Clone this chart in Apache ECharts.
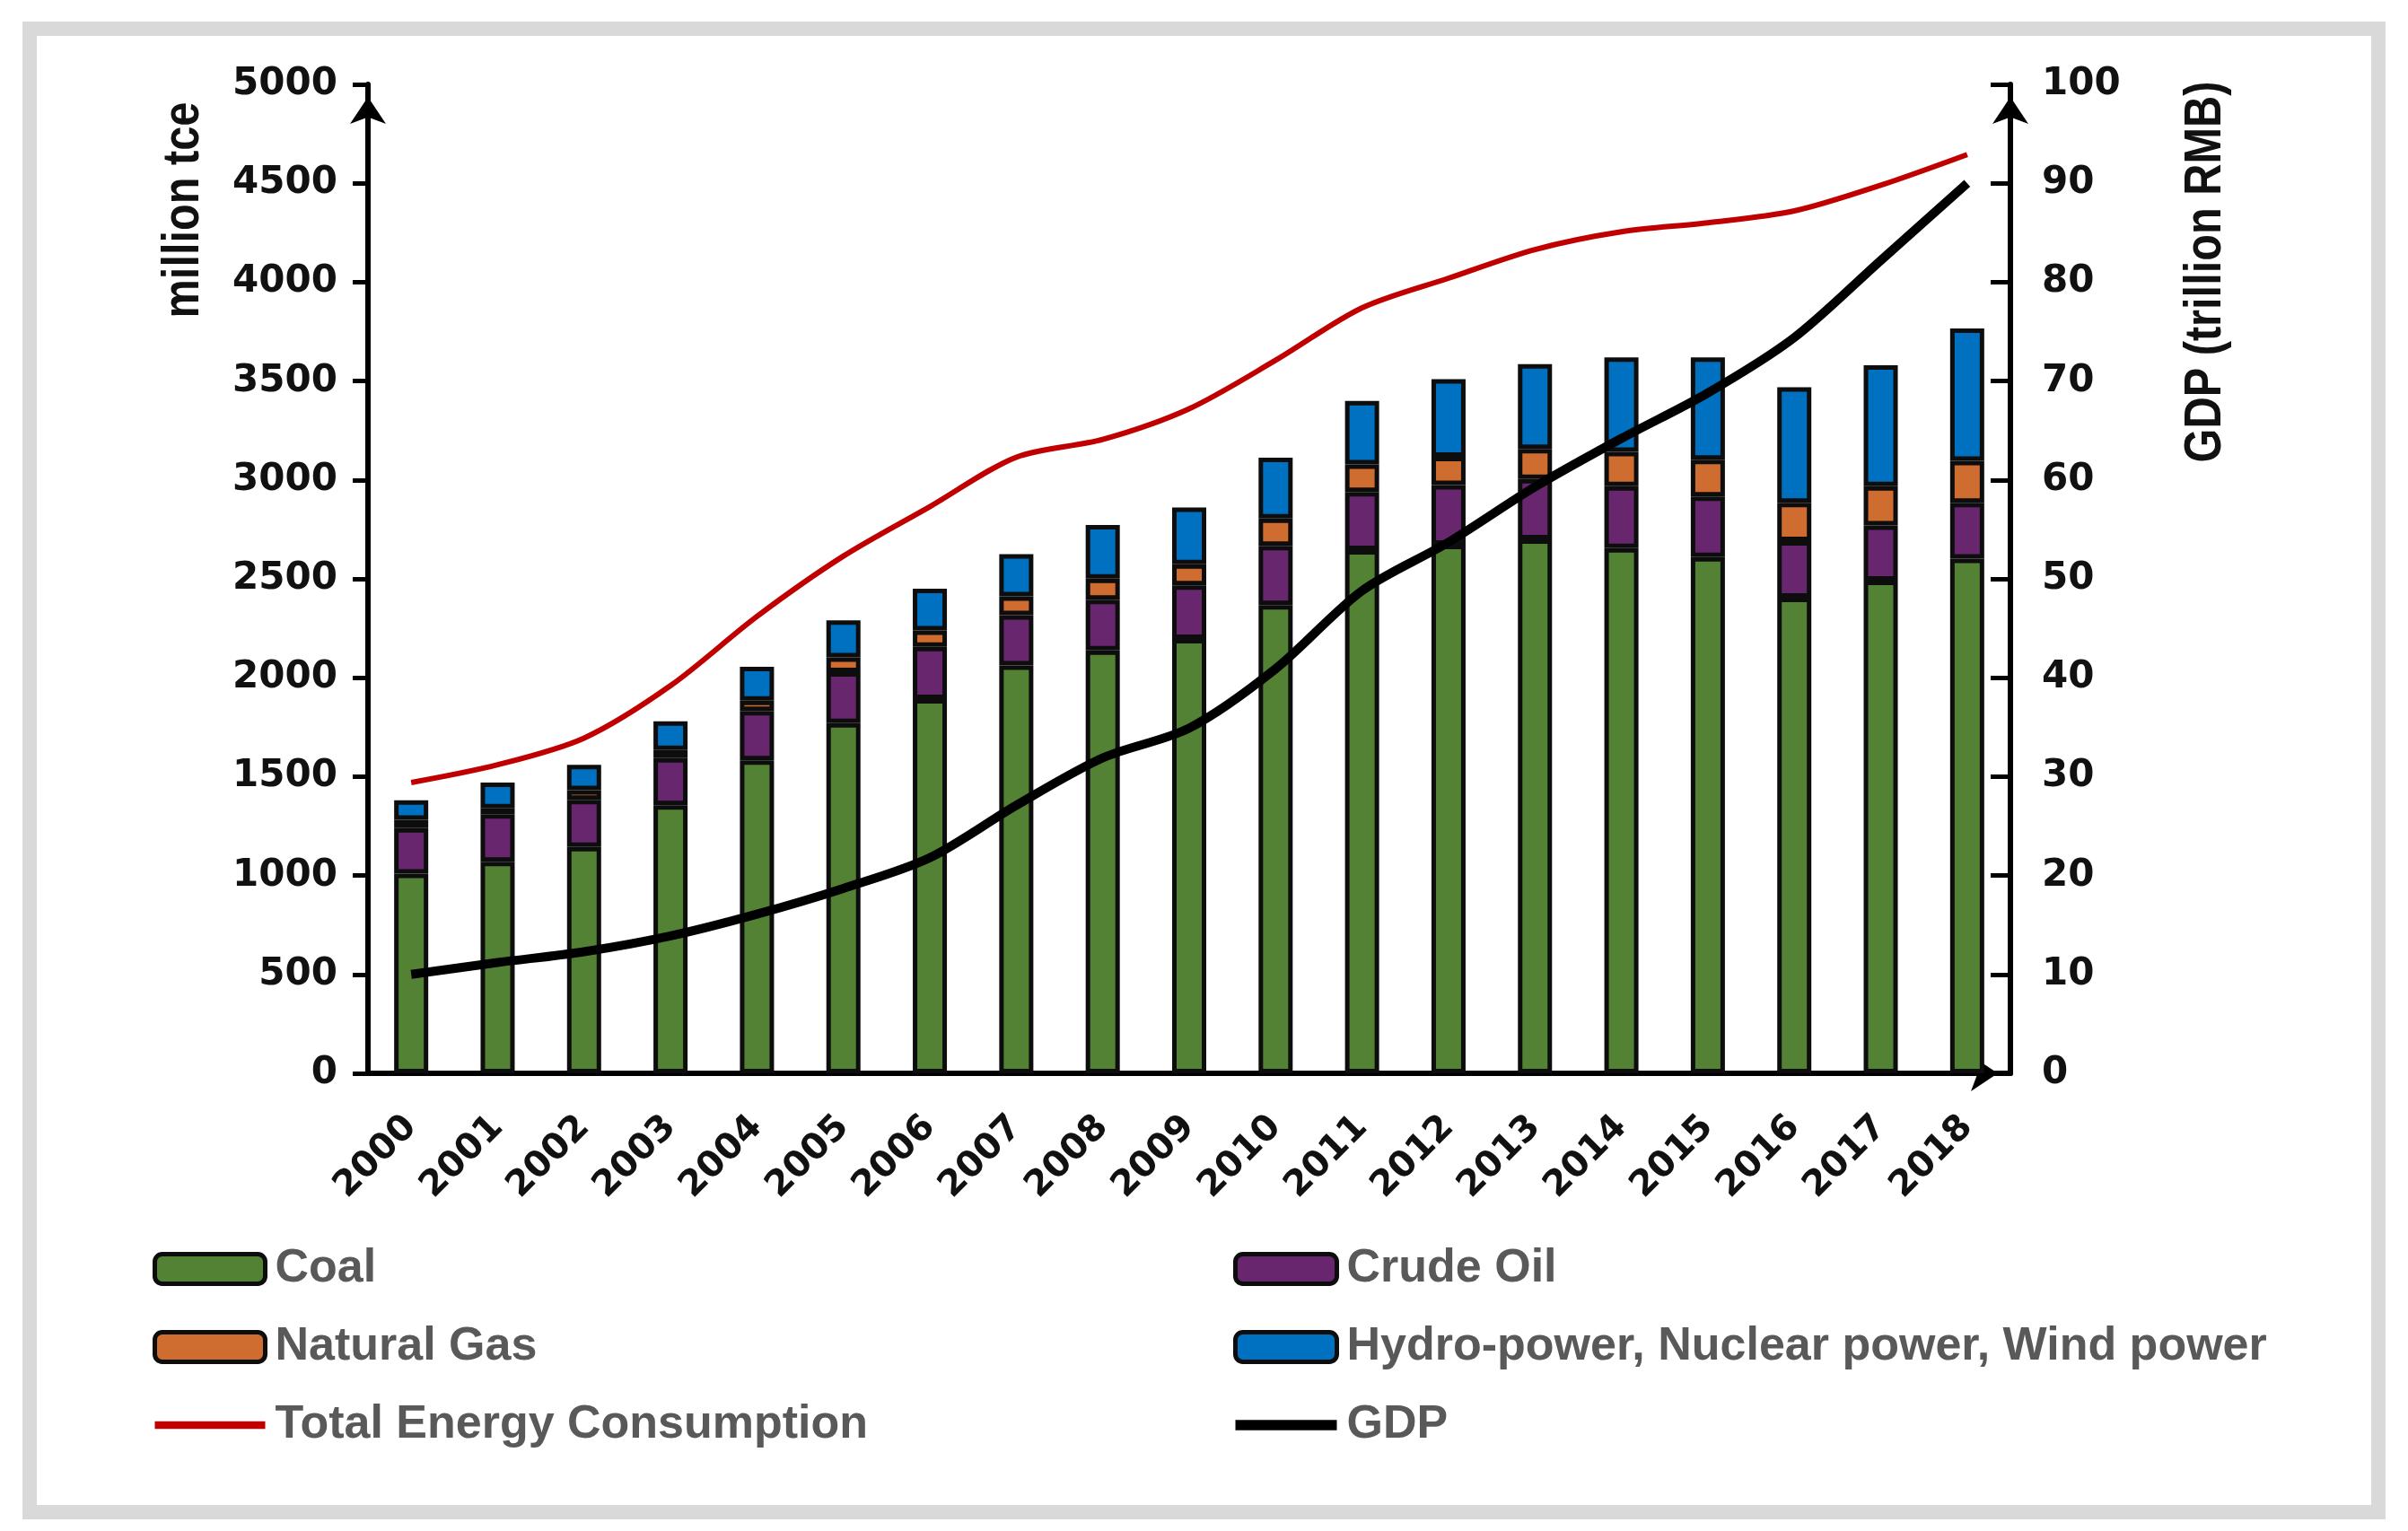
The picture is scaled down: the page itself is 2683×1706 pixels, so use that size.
<!DOCTYPE html>
<html>
<head>
<meta charset="utf-8">
<script src="https://cdn.jsdelivr.net/npm/echarts@6/dist/echarts.min.js"></script>
<style>
  html, body { margin: 0; padding: 0; background: #ffffff; }
  #chart { width: 2683px; height: 1706px; }
</style>
</head>
<body>
<div id="chart"></div>
<script>
const years = ['2000','2001','2002','2003','2004','2005','2006','2007','2008','2009',
               '2010','2011','2012','2013','2014','2015','2016','2017','2018'];
const coal            = [1010,1070,1145,1356,1582,1771,1892,2062,2138,2196,2367,2645,2672,2700,2655,2610,2405,2491,2602];
const crudeOil        = [ 230, 240, 238, 238, 250, 257, 264, 254, 256, 271, 300, 294, 302, 305, 314, 306, 285, 279, 282];
const naturalGas      = [  42,  30,  48,  41,  52,  75,  83,  95, 107, 107, 138, 140, 143, 152, 173, 186, 194, 199, 213];
const hydroNuclearWind= [  98, 130, 129, 145, 171, 187, 211, 214, 271, 287, 308, 321, 393, 428, 478, 518, 585, 611, 669];
const totalEnergy     = [1470,1560,1695,1960,2310,2615,2865,3115,3205,3360,3605,3870,4020,4165,4255,4300,4360,4490,4645];
const gdp             = [10.0,11.2,12.3,13.9,16.1,18.7,21.8,27.1,31.9,34.9,40.9,48.8,53.7,59.3,64.2,68.8,74.4,82.2,90.0];
const leftName  = 'million tce';
const rightName = 'GDP (trillion RMB)';

const chart = echarts.init(document.getElementById('chart'), null, { renderer: 'canvas' });

const tickFont = { fontFamily: 'DejaVu Sans', fontWeight: 'bold', fontSize: 42, color: '#111' };
const nameFont = 'bold 58px "Liberation Sans", Arial';
const legendText = { fontFamily: 'Liberation Sans', fontWeight: 'bold', fontSize: 52, color: '#595959', lineHeight: 50, padding: [0, 0, 0, 6] };
const barBorder = { borderColor: '#0d0d0d', borderWidth: 5 };
const plainNumber = function (v) { return String(v); };

function barSeries(name, data, color) {
  return {
    name: name, type: 'bar', stack: 'energy', data: data, barWidth: 38,
    itemStyle: Object.assign({ color: color }, barBorder),
    emphasis: { disabled: true }, z: 2
  };
}

const axisLineStyle = { show: true, lineStyle: { color: '#000', width: 6 }, symbol: ['none', 'arrow'], symbolSize: [30, 30], symbolOffset: [0, -14] };

const option = {
  backgroundColor: '#ffffff',
  animation: false,
  grid: { left: 410, right: 443, top: 94, bottom: 510, containLabel: false },
  graphic: [
    { type: 'rect', shape: { x: 33, y: 32, width: 2617, height: 1653 },
      style: { fill: 'none', stroke: '#d9d9d9', lineWidth: 16 }, silent: true },
    { type: 'text', x: 205, y: 234, rotation: Math.PI / 2, scaleX: 0.84,
      style: { text: leftName, font: nameFont, fill: '#111', align: 'center', verticalAlign: 'middle' } },
    { type: 'text', x: 2458, y: 303, rotation: Math.PI / 2, scaleX: 0.84,
      style: { text: rightName, font: nameFont, fill: '#111', align: 'center', verticalAlign: 'middle' } }
  ],
  legend: [
    {
      left: 165, top: 1383, orient: 'vertical', itemWidth: 123, itemHeight: 33, itemGap: 35,
      textStyle: legendText, selectedMode: false,
      data: [
        { name: 'Coal', itemStyle: barBorder },
        { name: 'Natural Gas', itemStyle: barBorder },
        { name: 'Total Energy Consumption', icon: 'path://M0,0L100,0L100,7L0,7Z', itemStyle: { color: '#c00000', borderWidth: 0 } }
      ]
    },
    {
      left: 1369, top: 1383, orient: 'vertical', itemWidth: 113, itemHeight: 33, itemGap: 35,
      textStyle: legendText, selectedMode: false,
      data: [
        { name: 'Crude Oil', itemStyle: barBorder },
        { name: 'Hydro-power, Nuclear power, Wind power', itemStyle: barBorder },
        { name: 'GDP', icon: 'path://M0,0L100,0L100,10L0,10Z', itemStyle: { color: '#000000', borderWidth: 0 } }
      ]
    }
  ],
  xAxis: {
    type: 'category', data: years, boundaryGap: true,
    axisLine: axisLineStyle,
    axisTick: { show: false },
    axisLabel: { rotate: 45, margin: 54, fontSize: 40, interval: 0, fontFamily: 'DejaVu Sans', fontWeight: 'bold', color: '#111' },
    splitLine: { show: false }
  },
  yAxis: [
    {
      type: 'value', position: 'left', min: 0, max: 5000, interval: 500,
      axisLine: axisLineStyle,
      axisTick: { show: true, inside: false, length: 17, lineStyle: { color: '#000', width: 5 } },
      axisLabel: Object.assign({ margin: 34, formatter: plainNumber }, tickFont),
      splitLine: { show: false }
    },
    {
      type: 'value', position: 'right', min: 0, max: 100, interval: 10,
      axisLine: axisLineStyle,
      axisTick: { show: true, inside: true, length: 22, lineStyle: { color: '#000', width: 5 } },
      axisLabel: Object.assign({ margin: 35, formatter: plainNumber }, tickFont),
      splitLine: { show: false }
    }
  ],
  series: [
    barSeries('Coal', coal, '#548235'),
    barSeries('Crude Oil', crudeOil, '#68266e'),
    barSeries('Natural Gas', naturalGas, '#cf6d30'),
    barSeries('Hydro-power, Nuclear power, Wind power', hydroNuclearWind, '#0070c0'),
    {
      name: 'Total Energy Consumption', type: 'line', yAxisIndex: 0, data: totalEnergy,
      smooth: 0.3, symbol: 'none', lineStyle: { color: '#c00000', width: 6 },
      itemStyle: { color: '#c00000' }, z: 5, emphasis: { disabled: true }
    },
    {
      name: 'GDP', type: 'line', yAxisIndex: 1, data: gdp,
      smooth: 0.3, symbol: 'none', lineStyle: { color: '#000000', width: 10 },
      itemStyle: { color: '#000000' }, z: 6, emphasis: { disabled: true }
    }
  ]
};
chart.setOption(option);
</script>
</body>
</html>
